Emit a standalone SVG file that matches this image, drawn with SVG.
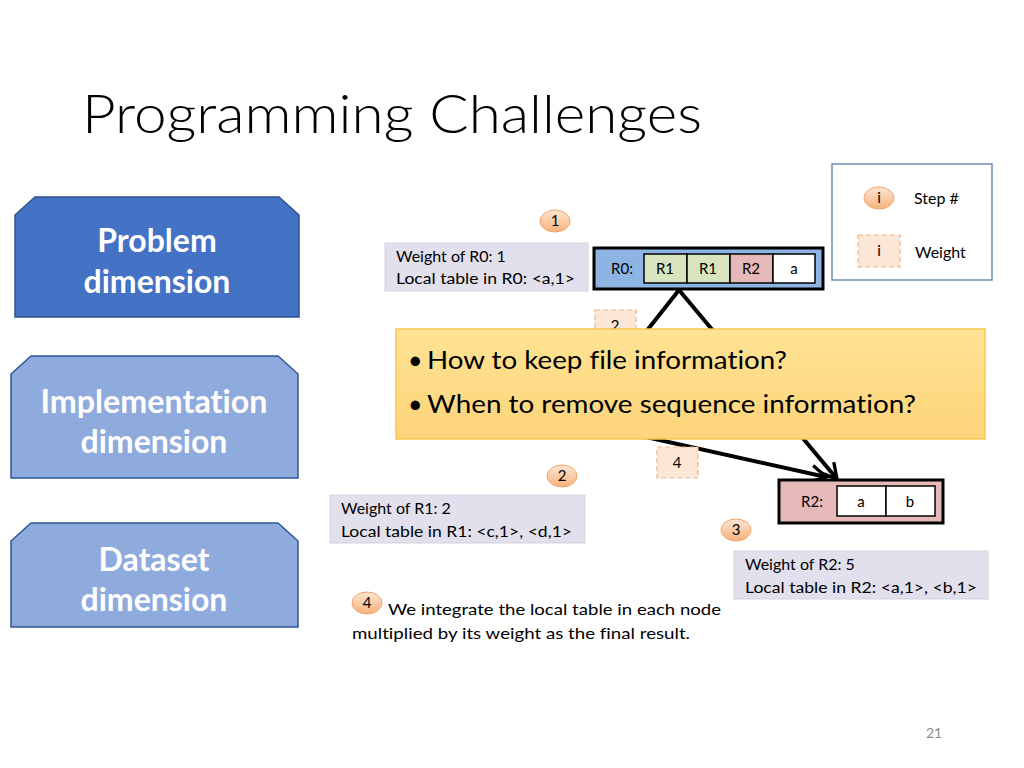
<svg xmlns="http://www.w3.org/2000/svg" width="1024" height="768" viewBox="0 0 1024 768">
<defs>
<linearGradient id="gStep" x1="0" y1="0" x2="0" y2="1">
<stop offset="0" stop-color="#FDE6D4"/><stop offset="1" stop-color="#F7B27C"/>
</linearGradient>
<linearGradient id="gNote" x1="0" y1="0" x2="0" y2="1">
<stop offset="0" stop-color="#FFE394"/><stop offset="1" stop-color="#FDD47A"/>
</linearGradient>
<marker id="arr" viewBox="0 0 12 12" refX="10" refY="6" markerWidth="5" markerHeight="5" orient="auto" markerUnits="strokeWidth">
<path d="M1,1 L10,6 L1,11" fill="none" stroke="#000" stroke-width="2"/>
</marker>
</defs>
<style>
text{font-family:Lato,"Open Sans","Liberation Sans",sans-serif;fill:#000;font-variant-ligatures:none}
.dim{fill:#fff;font-weight:700;font-size:32px;text-anchor:middle}
.wbox{fill:#E1E0EC;stroke:#D4D3E0;stroke-width:1}
.wt{font-size:16px}
.step{fill:url(#gStep);stroke:#F2A46A;stroke-width:1}
.stept{font-size:15px;text-anchor:middle}
.wgt{fill:#FCE6D6;stroke:#F4B183;stroke-width:1.2;stroke-dasharray:5,3}
.node{stroke:#000;stroke-width:3}
.cell{stroke:#000;stroke-width:1.5}
.ct{font-size:15px;text-anchor:middle}
.edge{stroke:#000;stroke-width:4;fill:none}
</style>
<rect width="1024" height="768" fill="#fff"/>
<text x="82" y="133" font-size="54" font-weight="300" textLength="620" lengthAdjust="spacingAndGlyphs">Programming Challenges</text>

<g id="problem-dimension">
<polygon points="35,197 279,197 299,215 299,317 15,317 15,215" fill="#4472C4" stroke="#2F528F" stroke-width="1.5"/>
<text class="dim" x="157" y="252">Problem</text>
<text class="dim" x="157" y="293">dimension</text>
</g>
<g id="implementation-dimension">
<polygon points="31,356 278,356 298,374 298,478 11,478 11,374" fill="#8FAADC" stroke="#2F5597" stroke-width="1.5"/>
<text class="dim" x="154" y="413" textLength="227" lengthAdjust="spacingAndGlyphs">Implementation</text>
<text class="dim" x="154" y="453">dimension</text>
</g>
<g id="dataset-dimension">
<polygon points="31,523 278,523 298,541 298,627 11,627 11,541" fill="#8FAADC" stroke="#2F5597" stroke-width="1.5"/>
<text class="dim" x="154" y="571">Dataset</text>
<text class="dim" x="154" y="611">dimension</text>
</g>

<g id="legend">
<rect x="832" y="164" width="160" height="116" fill="#fff" stroke="#6F8DB9" stroke-width="1.5"/>
<ellipse class="step" cx="879" cy="198" rx="15" ry="11"/>
<text class="stept" x="879" y="203">i</text>
<text class="wt" x="914" y="204">Step #</text>
<rect class="wgt" x="858" y="235" width="42" height="32"/>
<text class="stept" x="879" y="256">i</text>
<text class="wt" x="915" y="258">Weight</text>
</g>

<g id="connectors">
<line class="edge" x1="679" y1="290" x2="600" y2="390"/>
<line class="edge" x1="679" y1="290" x2="837" y2="479" marker-end="url(#arr)"/>
<line class="edge" x1="610" y1="429" x2="826" y2="477" marker-end="url(#arr)"/>
</g>

<g id="step1">
<ellipse class="step" cx="555" cy="221" rx="15" ry="11"/>
<text class="stept" x="555" y="226">1</text>
</g>
<g id="weight-r0">
<rect class="wbox" x="385" y="243" width="203" height="48"/>
<text class="wt" x="396" y="262">Weight of R0: 1</text>
<text class="wt" x="396" y="284" textLength="179" lengthAdjust="spacingAndGlyphs">Local table in R0: &lt;a,1&gt;</text>
</g>
<g id="r0">
<rect class="node" x="594" y="248" width="229" height="41" fill="#8EB4E3"/>
<text class="ct" x="622" y="274">R0:</text>
<rect class="cell" x="644" y="254" width="43" height="29" fill="#D7E4BD"/>
<rect class="cell" x="687" y="254" width="43" height="29" fill="#D7E4BD"/>
<rect class="cell" x="730" y="254" width="43" height="29" fill="#E6B9B8"/>
<rect class="cell" x="773" y="254" width="42" height="29" fill="#fff"/>
<text class="ct" x="665" y="274">R1</text>
<text class="ct" x="708" y="274">R1</text>
<text class="ct" x="751" y="274">R2</text>
<text class="ct" x="794" y="274">a</text>
</g>
<g id="weight2">
<rect class="wgt" x="595" y="310" width="41" height="32"/>
<text class="stept" x="615" y="331">2</text>
</g>

<g id="note">
<rect x="396" y="329" width="589" height="110" fill="url(#gNote)" stroke="#F6C650" stroke-width="1.5"/>
<text x="408" y="369" font-size="25">•</text>
<text x="427" y="369" font-size="25" textLength="360" lengthAdjust="spacingAndGlyphs">How to keep file information?</text>
<text x="408" y="413" font-size="25">•</text>
<text x="427" y="413" font-size="25" textLength="489" lengthAdjust="spacingAndGlyphs">When to remove sequence information?</text>
</g>

<g id="weight4">
<rect class="wgt" x="657" y="447" width="41" height="31"/>
<text class="stept" x="677" y="468">4</text>
</g>
<g id="step2">
<ellipse class="step" cx="562" cy="476" rx="15" ry="11"/>
<text class="stept" x="562" y="481">2</text>
</g>
<g id="weight-r1">
<rect class="wbox" x="330" y="495" width="255" height="48"/>
<text class="wt" x="341" y="514">Weight of R1: 2</text>
<text class="wt" x="341" y="537" textLength="231" lengthAdjust="spacingAndGlyphs">Local table in R1: &lt;c,1&gt;, &lt;d,1&gt;</text>
</g>
<g id="r2">
<rect class="node" x="779" y="480" width="164" height="43" fill="#E6B9B8"/>
<text class="ct" x="812" y="507">R2:</text>
<rect class="cell" x="837" y="486" width="49" height="30" fill="#fff"/>
<rect class="cell" x="886" y="486" width="49" height="30" fill="#fff"/>
<text class="ct" x="861" y="507">a</text>
<text class="ct" x="910" y="507">b</text>
</g>
<g id="step3">
<ellipse class="step" cx="736" cy="530" rx="15" ry="11"/>
<text class="stept" x="736" y="535">3</text>
</g>
<g id="weight-r2">
<rect class="wbox" x="734" y="551" width="254" height="48"/>
<text class="wt" x="745" y="570">Weight of R2: 5</text>
<text class="wt" x="745" y="593" textLength="232" lengthAdjust="spacingAndGlyphs">Local table in R2: &lt;a,1&gt;, &lt;b,1&gt;</text>
</g>
<g id="step4">
<ellipse class="step" cx="367" cy="603" rx="15" ry="11"/>
<text class="stept" x="367" y="608">4</text>
<text class="wt" x="388" y="615" textLength="333" lengthAdjust="spacingAndGlyphs">We integrate the local table in each node</text>
<text class="wt" x="352" y="639" textLength="338" lengthAdjust="spacingAndGlyphs">multiplied by its weight as the final result.</text>
</g>
<text x="934" y="738" font-size="14" text-anchor="middle" style="fill:#8C8C8C">21</text>
</svg>
